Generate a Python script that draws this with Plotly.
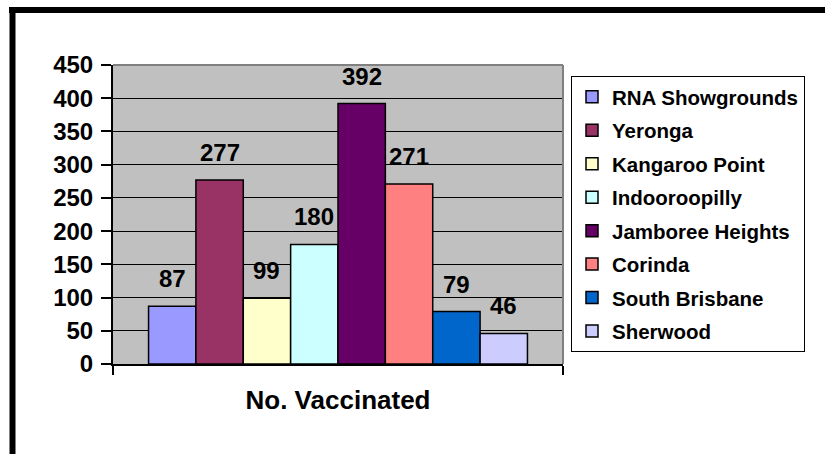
import plotly.graph_objects as go

# ---- data ----
category = ["No. Vaccinated"]
sites = ["RNA Showgrounds", "Yeronga", "Kangaroo Point", "Indooroopilly",
         "Jamboree Heights", "Corinda", "South Brisbane", "Sherwood"]
vaccinated = [87, 277, 99, 180, 392, 271, 79, 46]
colors = ["#9999FF", "#993366", "#FFFFCC", "#CCFFFF",
          "#660066", "#FF8080", "#0066CC", "#CCCCFF"]
y_ticks = [0, 50, 100, 150, 200, 250, 300, 350, 400, 450]

# ---- layout geometry (pixels) ----
W, H = 825, 454
L, R, T, B = 113, 563, 65, 364
PW, PH = R - L, B - T
FONT = "Arial, 'Liberation Sans', sans-serif"
BARGAP = 0.158

def px_x(p):
    return (p - L) / PW

def px_y(p):
    return (B - p) / PH

fig = go.Figure()
n = len(sites)
for i, (name, val, col) in enumerate(zip(sites, vaccinated, colors)):
    fig.add_trace(go.Bar(
        x=category, y=[val], name=name, legendgroup=name,
        marker=dict(color=col, line=dict(color="black", width=1.5)),
    ))

# value labels above bars
for i, val in enumerate(vaccinated):
    xc = -0.5 + BARGAP / 2 + (i + 0.5) * (1 - BARGAP) / n
    fig.add_annotation(
        x=xc, y=val, xref="x", yref="y", text=str(val), showarrow=False,
        yanchor="bottom", yshift=12,
        font=dict(family=FONT, size=24, color="black", weight="bold"),
    )

shapes = [
    # plot-area border (top & right)
    dict(type="line", xref="paper", yref="paper", x0=0, x1=1, y0=1, y1=1,
         line=dict(color="#808080", width=2)),
    dict(type="line", xref="paper", yref="paper", x0=1, x1=1, y0=0, y1=1,
         line=dict(color="#808080", width=2)),
    # outer chart border (top & left visible)
    dict(type="line", xref="paper", yref="paper", x0=px_x(9), x1=px_x(840),
         y0=px_y(10), y1=px_y(10), line=dict(color="black", width=6)),
    dict(type="line", xref="paper", yref="paper", x0=px_x(12.5), x1=px_x(12.5),
         y0=px_y(7), y1=px_y(470), line=dict(color="black", width=6)),
]

fig.update_layout(
    width=W, height=H,
    margin=dict(l=L, r=W - R, t=T, b=H - B, pad=0),
    paper_bgcolor="white", plot_bgcolor="#C0C0C0",
    barmode="group", bargap=BARGAP, bargroupgap=0,
    font=dict(family=FONT, color="black"),
    showlegend=True,
    legend=dict(
        x=px_x(571), y=px_y(76), xanchor="left", yanchor="top",
        bgcolor="white", bordercolor="black", borderwidth=1,
        font=dict(family=FONT, size=20.5, color="black", weight="bold"),
        tracegroupgap=3.8, traceorder="grouped",
    ),
    shapes=shapes,
)
fig.update_xaxes(
    type="category", showline=True, linecolor="black", linewidth=2,
    ticks="outside", tickson="boundaries", ticklen=9, tickwidth=2, tickcolor="black",
    showgrid=False, ticklabelstandoff=12,
    tickfont=dict(family=FONT, size=26, color="black", weight="bold"),
)
fig.update_yaxes(
    range=[0, 450], tickvals=y_ticks, showline=True, linecolor="black", linewidth=2,
    ticks="outside", ticklen=10, tickwidth=2, tickcolor="black",
    showgrid=True, gridcolor="black", gridwidth=1, zeroline=False,
    ticklabelstandoff=3,
    tickfont=dict(family=FONT, size=24, color="black", weight="bold"),
)

fig.write_html("out.html", config={"displayModeBar": False},
               post_script="document.body.style.margin='0';")
